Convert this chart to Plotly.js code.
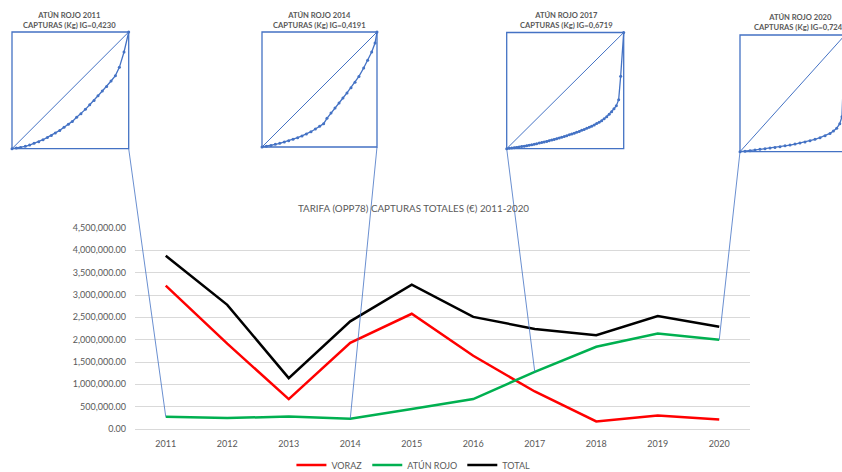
<!DOCTYPE html>
<html><head><meta charset="utf-8">
<script src="https://cdn.plot.ly/plotly-3.0.1.min.js"></script>
<style>html,body{margin:0;padding:0;background:#fff;overflow:hidden}#chart{width:842px;height:472px;overflow:hidden}</style>
</head><body><div id="chart"></div>
<script>
// ---- main chart data ----
const years = ['2011','2012','2013','2014','2015','2016','2017','2018','2019','2020'];
const voraz = [3210000, 1910000, 670000, 1930000, 2580000, 1640000, 840000, 170000, 300000, 210000];
const atunRojo = [275000, 245000, 280000, 230000, 450000, 670000, 1280000, 1840000, 2140000, 2000000];
const total = [3880000, 2780000, 1140000, 2410000, 3230000, 2510000, 2240000, 2100000, 2530000, 2290000];
const seriesNames = ['VORAZ', 'ATÚN ROJO', 'TOTAL'];
const mainTitle = 'TARIFA (OPP78) CAPTURAS TOTALES (€) 2011-2020';

// ---- Lorenz curve insets (ATÚN ROJO capturas) ----
const insetYears = ['2011', '2014', '2017', '2020'];
const insetGini = ['0,4230', '0,4191', '0,6719', '0,7246'];
const lorenz2011x = [0,.037,.074,.114,.151,.189,.229,.266,.303,.337,.371,.409,.446,.483,.517,.554,.591,.629,.666,.703,.737,.774,.811,.849,.886,.92,.96,1];
const lorenz2011y = [0,.006,.011,.02,.031,.046,.06,.077,.097,.114,.134,.157,.183,.209,.234,.269,.3,.337,.377,.414,.454,.494,.534,.58,.626,.697,.829,1];
const lorenz2014x = [0,.038,.078,.116,.154,.194,.232,.27,.31,.348,.386,.426,.464,.501,.536,.565,.6,.635,.67,.704,.739,.774,.809,.843,.884,.919,.954,.983,1];
const lorenz2014y = [0,.006,.014,.023,.032,.043,.055,.067,.081,.096,.113,.133,.157,.18,.203,.249,.296,.339,.383,.426,.47,.516,.562,.614,.687,.754,.826,.904,1];
const lorenz2017x = [0,.022,.043,.064,.085,.106,.128,.15,.171,.192,.214,.235,.256,.278,.299,.32,.342,.363,.385,.406,.427,.449,.47,.492,.513,.535,.556,.577,.598,.62,.641,.662,.684,.705,.726,.748,.769,.79,.812,.833,.855,.876,.897,.917,.937,.957,.974,1];
const lorenz2017y = [0,.003,.006,.008,.011,.015,.019,.022,.026,.03,.034,.038,.043,.048,.053,.058,.063,.069,.075,.08,.086,.092,.099,.105,.112,.119,.126,.133,.141,.149,.158,.166,.175,.184,.194,.205,.216,.228,.241,.257,.275,.296,.318,.344,.37,.422,.624,1];
const lorenz2020x = [0,.048,.095,.143,.19,.238,.286,.333,.381,.429,.476,.524,.571,.619,.667,.714,.762,.81,.857,.89,.921,.95,.971,1];
const lorenz2020y = [0,.004,.009,.014,.02,.026,.032,.037,.043,.05,.057,.065,.074,.083,.094,.106,.12,.137,.157,.177,.2,.24,.3,1];
const lorenzX = [lorenz2011x, lorenz2014x, lorenz2017x, lorenz2020x];
const lorenzY = [lorenz2011y, lorenz2014y, lorenz2017y, lorenz2020y];

// ---- layout geometry (pixels) ----
const W = 842, H = 472;
const plot = {L: 135, R: 750, T: 228, B: 429};
const yMax = 4500000;
const insets = [
  {L: 12,    R: 128.7, T: 32,   B: 148.7, corner: 'R', tx: 69,  ty: 20},
  {L: 262,   R: 377,   T: 32,   B: 147,   corner: 'R', tx: 319, ty: 20},
  {L: 506.7, R: 623.7, T: 32.5, B: 148.7, corner: 'L', tx: 566, ty: 20},
  {L: 740,   R: 845,   T: 35,   B: 151.7, corner: 'L', tx: 800, ty: 22}
];
const blue = '#4472C4', grey = '#595959', font = 'Lato, "Open Sans", sans-serif';
const px = x => x / W, py = y => (H - y) / H;

// data -> pixel mapping for main chart (category axis, linear y)
const dataX = i => plot.L + (i + 0.5) / years.length * (plot.R - plot.L);
const dataY = v => plot.B - v / yMax * (plot.B - plot.T);

const traces = [
  {x: years, y: voraz, name: seriesNames[0], type: 'scatter', mode: 'lines', line: {color: '#FF0000', width: 2.5}},
  {x: years, y: atunRojo, name: seriesNames[1], type: 'scatter', mode: 'lines', line: {color: '#00B050', width: 2.5}},
  {x: years, y: total, name: seriesNames[2], type: 'scatter', mode: 'lines', line: {color: '#000000', width: 2.5}}
];

const layout = {
  width: W, height: H,
  margin: {l: 0, r: 0, t: 0, b: 0, autoexpand: false},
  paper_bgcolor: '#fff', plot_bgcolor: 'rgba(0,0,0,0)',
  showlegend: true,
  legend: {orientation: 'h', x: 0.491, xanchor: 'center', y: py(465), yanchor: 'middle',
           font: {family: font, size: 9, color: grey}, itemwidth: 30, tracegroupgap: 0},
  xaxis: {type: 'category', domain: [px(plot.L), px(plot.R)], anchor: 'y', range: [-0.5, years.length - 0.5],
          showgrid: false, zeroline: false, showline: true, linecolor: '#D9D9D9', linewidth: 1,
          ticks: '', ticklabelstandoff: 6, tickfont: {family: font, size: 9, color: grey}, fixedrange: true},
  yaxis: {domain: [py(plot.B), py(plot.T)], anchor: 'x', range: [0, yMax], dtick: 500000,
          tickformat: ',.2f', showgrid: true, gridcolor: '#D9D9D9', gridwidth: 1, zeroline: false,
          showline: false, ticks: '', ticklabelstandoff: 8, tickfont: {family: font, size: 9, color: grey}, fixedrange: true},
  annotations: [
    {xref: 'paper', yref: 'paper', x: px(413), y: py(208), xanchor: 'center', yanchor: 'middle', showarrow: false,
     text: mainTitle, font: {family: font, size: 9.8, color: grey}}
  ],
  shapes: []
};

const pad = 3;
insets.forEach((b, k) => {
  const n = k + 2, w = b.R - b.L, h = b.B - b.T;
  const visR = Math.min(b.R + pad, W);
  layout['xaxis' + n] = {domain: [px(b.L - pad), px(visR)], anchor: 'y' + n,
    range: [-pad / w, (visR - b.L) / w], visible: false, fixedrange: true};
  layout['yaxis' + n] = {domain: [py(b.B + pad), py(b.T - pad)], anchor: 'x' + n,
    range: [-pad / h, 1 + pad / h], visible: false, fixedrange: true};
  // frame
  layout.shapes.push({type: 'rect', xref: 'paper', yref: 'paper', x0: px(b.L), x1: px(b.R), y0: py(b.B), y1: py(b.T),
    line: {color: blue, width: 1.3}, layer: 'above'});
  // equality diagonal
  traces.push({x: [0, 1], y: [0, 1], xaxis: 'x' + n, yaxis: 'y' + n, type: 'scatter', mode: 'lines',
    line: {color: blue, width: 1}, showlegend: false, hoverinfo: 'skip'});
  // Lorenz curve
  traces.push({x: lorenzX[k], y: lorenzY[k], xaxis: 'x' + n, yaxis: 'y' + n, type: 'scatter', mode: 'lines+markers',
    line: {color: blue, width: 1.3}, marker: {color: blue, size: 3}, showlegend: false, hoverinfo: 'skip'});
  // title
  layout.annotations.push({xref: 'paper', yref: 'paper', x: px(b.tx), y: py(b.ty), xanchor: 'center', yanchor: 'middle',
    showarrow: false, align: 'center',
    text: '<b>ATÚN ROJO ' + insetYears[k] + '<br>CAPTURAS (Kg) IG=' + insetGini[k] + '</b>',
    font: {family: font, size: 7.6, color: grey}});
  // connector to the ATÚN ROJO point of that year
  const idx = years.indexOf(insetYears[k]);
  const cx = b.corner === 'R' ? b.R : b.L;
  layout.shapes.push({type: 'line', xref: 'paper', yref: 'paper', x0: px(cx), y0: py(b.B),
    x1: px(dataX(idx)), y1: py(dataY(atunRojo[idx])), line: {color: blue, width: 0.8}, layer: 'above'});
});

Plotly.newPlot('chart', traces, layout, {displayModeBar: false, staticPlot: true});
</script></body></html>
